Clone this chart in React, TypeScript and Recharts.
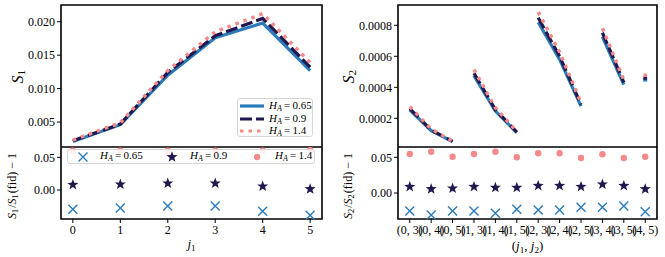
import {
  ComposedChart,
  Legend,
  Line,
  ReferenceArea,
  Scatter,
  XAxis,
  YAxis,
} from "recharts";

const FONT = "'Liberation Serif', 'Times New Roman', serif";
const BLUE = "#2b7bba";
const NAVY = "#21184f";
const PINK = "#f58a8a";

// left: S1 against j1
const j1Values = [0, 1, 2, 3, 4, 5];
const s1H065 = [0.0021, 0.0046, 0.012, 0.0176, 0.0198, 0.0127];
const s1H09 = [0.0022, 0.0047, 0.0124, 0.0179, 0.0205, 0.0132];
const s1H14 = [0.0023, 0.0049, 0.0127, 0.0185, 0.0212, 0.0139];
const r1H065 = [-0.0295, -0.0275, -0.0245, -0.0245, -0.0326, -0.0387];
const r1H09 = [0.0081, 0.0086, 0.0102, 0.0102, 0.0056, 0.0015];
const r1H14 = [0.06, 0.06, 0.06, 0.06, 0.06, 0.061];

// right: S2 against (j1, j2)
const pairLabels = [
  "(0, 3)", "(0, 4)", "(0, 5)", "(1, 3)", "(1, 4)", "(1, 5)",
  "(2, 3)", "(2, 4)", "(2, 5)", "(3, 4)", "(3, 5)", "(4, 5)",
];
const pairJ1 = [0, 0, 0, 1, 1, 1, 2, 2, 2, 3, 3, 4];
const s2H065 = [0.000254, 0.00012, 0.000049, 0.000475, 0.000247, 0.000107, 0.00082, 0.00058, 0.000279, 0.000725, 0.000417, 0.00045];
const s2H09 = [0.000263, 0.000124, 0.000051, 0.000491, 0.000256, 0.000111, 0.000849, 0.000601, 0.000289, 0.000752, 0.000432, 0.00046];
const s2H14 = [0.000275, 0.000131, 0.000053, 0.000514, 0.000268, 0.000115, 0.000886, 0.000627, 0.0003, 0.000781, 0.000448, 0.000478];
const r2H065 = [-0.0252, -0.0308, -0.0252, -0.0252, -0.0285, -0.0229, -0.0238, -0.0238, -0.02, -0.02, -0.0182, -0.0262];
const r2H09 = [0.0088, 0.0056, 0.0065, 0.0088, 0.0075, 0.0075, 0.0102, 0.0102, 0.0088, 0.0121, 0.0102, 0.0056];
const r2H14 = [0.0546, 0.0578, 0.0508, 0.0546, 0.0578, 0.05, 0.0556, 0.0556, 0.049, 0.0542, 0.049, 0.0508];

const s1Ticks = [0.005, 0.01, 0.015, 0.02];
const s2Ticks = [0.0002, 0.0004, 0.0006, 0.0008];
const ratioTicks = [0, 0.05];

const leftData = j1Values.map((j, i) => ({
  j,
  a: s1H065[i],
  b: s1H09[i],
  c: s1H14[i],
  ra: r1H065[i],
  rb: r1H09[i],
  rc: r1H14[i],
}));

// break the lines between j1 groups with empty rows
const rightLines: any[] = [];
pairLabels.forEach((_, i) => {
  if (i > 0 && pairJ1[i] !== pairJ1[i - 1]) rightLines.push({ x: i - 0.5, a: null, b: null, c: null });
  rightLines.push({ x: i, a: s2H065[i], b: s2H09[i], c: s2H14[i] });
});
const loneIdx = pairLabels
  .map((_, i) => i)
  .filter((i) => pairJ1[i] !== pairJ1[i - 1] && pairJ1[i] !== pairJ1[i + 1]);

const rightRatio = pairLabels.map((_, i) => ({ x: i, ra: r2H065[i], rb: r2H09[i], rc: r2H14[i] }));

const tickStyle = { fontSize: 12, fill: "#000", fontFamily: FONT };

const Cross = ({ cx, cy }: any) => (
  <path d={`M${cx - 4.5},${cy - 4.5}L${cx + 4.5},${cy + 4.5}M${cx - 4.5},${cy + 4.5}L${cx + 4.5},${cy - 4.5}`} stroke={BLUE} strokeWidth={1.4} fill="none" />
);
const starD = (cx: number, cy: number, R: number, r: number) => {
  let d = "";
  for (let i = 0; i < 10; i++) {
    const ang = -Math.PI / 2 + (i * Math.PI) / 5;
    const rad = i % 2 ? r : R;
    d += `${i ? "L" : "M"}${cx + rad * Math.cos(ang)},${cy + rad * Math.sin(ang)}`;
  }
  return d + "Z";
};
const Star = ({ cx, cy }: any) => <path d={starD(cx, cy, 5.8, 2.4)} fill={NAVY} />;
const Dot = ({ cx, cy }: any) => <circle cx={cx} cy={cy} r={3.2} fill={PINK} />;

// S with a subscript, for axis labels
const SubS = ({ n }: { n: string }) => (
  <>
    <tspan fontStyle="italic">S</tspan>
    <tspan dy={3} fontSize="0.7em">{n}</tspan>
    <tspan dy={-3}>{"\u200a"}</tspan>
  </>
);

const yLabel = (dx: number, dyc: number, size: number, body: any) => ({ viewBox }: any) => {
  const cx = viewBox.x + dx;
  const cy = viewBox.y + viewBox.height / 2 + dyc;
  return (
    <text x={cx} y={cy} transform={`rotate(-90 ${cx} ${cy})`} textAnchor="middle" dominantBaseline="middle" fontFamily={FONT} fontSize={size} fill="#000">
      {body}
    </text>
  );
};

const xLabel = (dy: number, body: any) => ({ viewBox }: any) => (
  <text x={viewBox.x + viewBox.width / 2} y={viewBox.y + dy} textAnchor="middle" fontFamily={FONT} fontSize={13} fill="#000">
    {body}
  </text>
);

const HA = ({ v }: { v: string }) => (
  <span style={{ whiteSpace: "nowrap" }}>
    <i>H</i>
    <sub style={{ fontSize: 8, fontStyle: "italic", verticalAlign: -2 }}>A</sub>
    {"\u2009=\u2009" + v}
  </span>
);

const LineLegend = () => {
  const rows = [
    { c: BLUE, dash: undefined, v: "0.65" },
    { c: NAVY, dash: "12 4", v: "0.9" },
    { c: PINK, dash: "3.5 5", v: "1.4" },
  ];
  return (
    <div style={{ width: 76, height: 39, boxSizing: "border-box", background: "rgba(255,255,255,0.85)", border: "1px solid #d6d6d6", borderRadius: 3, fontFamily: FONT, fontSize: 11, padding: "1px 0 0 2px", whiteSpace: "nowrap" }}>
      {rows.map((r) => (
        <div key={r.v} style={{ display: "flex", alignItems: "center", height: 12.5 }}>
          <svg width={24} height={8} style={{ marginRight: 5, flex: "none" }}>
            <line x1={0} y1={4} x2={24} y2={4} stroke={r.c} strokeWidth={3.2} strokeDasharray={r.dash} />
          </svg>
          <HA v={r.v} />
        </div>
      ))}
    </div>
  );
};

const MarkerLegend = () => (
  <div style={{ position: "relative", width: 248, height: 15, boxSizing: "border-box", background: "rgba(255,255,255,0.85)", border: "1px solid #d6d6d6", borderRadius: 3, fontFamily: FONT, fontSize: 11 }}>
    <svg width={248} height={14} style={{ position: "absolute", left: 0, top: 0 }}>
      <Cross cx={15} cy={7} />
      <Star cx={104} cy={7} />
      <Dot cx={189} cy={7} />
    </svg>
    <span style={{ position: "absolute", left: 32, top: -1 }}><HA v="0.65" /></span>
    <span style={{ position: "absolute", left: 122, top: -1 }}><HA v="0.9" /></span>
    <span style={{ position: "absolute", left: 207, top: -1 }}><HA v="1.4" /></span>
  </div>
);

const frame = (x1: number, x2: number, y1: number, y2: number) => (
  <ReferenceArea x1={x1} x2={x2} y1={y1} y2={y2} fill="none" stroke="#000" strokeWidth={1.6} ifOverflow="visible" />
);

const lonePoint = (color: string, size: number) => (props: any) => {
  const { cx, cy, payload, index } = props;
  if (!loneIdx.includes(payload.x)) return <g key={index} />;
  return <rect key={index} x={cx - size / 2} y={cy - size / 2} width={size} height={size} fill={color} />;
};

export default function App() {
  return (
    <div style={{ position: "absolute", left: 0, top: 0, width: 665, height: 257, background: "#fff" }}>
      {/* top left: S1 */}
      <div style={{ position: "absolute", left: 0, top: 0 }}>
        <ComposedChart width={330} height={147} data={leftData} margin={{ top: 5, right: 8, bottom: 0, left: 0 }}>
          <XAxis dataKey="j" type="number" domain={[-0.25, 5.25]} hide />
          <YAxis
            width={61}
            type="number"
            domain={[0.00127, 0.0225]}
            ticks={s1Ticks}
            tickFormatter={(v) => v.toFixed(3)}
            tick={tickStyle}
            tickSize={4}
            tickLine={{ stroke: "#000" }}
            axisLine={false}
            label={{ content: yLabel(19, 0, 16, <SubS n="1" />) }}
          />
          <Line dataKey="a" stroke={BLUE} strokeWidth={3.2} dot={false} isAnimationActive={false} />
          <Line dataKey="b" stroke={NAVY} strokeWidth={3.2} strokeDasharray="12 4" dot={false} isAnimationActive={false} />
          <Line dataKey="c" stroke={PINK} strokeWidth={3.5} strokeDasharray="3.5 5" dot={false} isAnimationActive={false} />
          {frame(-0.25, 5.25, 0.00127, 0.0225)}
          <Legend layout="vertical" align="center" verticalAlign="middle" wrapperStyle={{ left: 237, top: 98, width: 76 }} content={() => <LineLegend />} />
        </ComposedChart>
      </div>

      {/* bottom left: ratio */}
      <div style={{ position: "absolute", left: 0, top: 147 }}>
        <ComposedChart width={330} height={110} data={leftData} margin={{ top: 0, right: 8, bottom: 0, left: 0 }}>
          <XAxis
            dataKey="j"
            type="number"
            domain={[-0.25, 5.25]}
            ticks={j1Values}
            tick={tickStyle}
            tickSize={4}
            tickLine={{ stroke: "#000" }}
            axisLine={false}
            height={38}
            label={{ content: xLabel(29, <><tspan fontStyle="italic">j</tspan><tspan dy={3} fontSize="0.7em">1</tspan></>) }}
          />
          <YAxis
            width={61}
            type="number"
            domain={[-0.0443, 0.0657]}
            ticks={ratioTicks}
            tickFormatter={(v) => v.toFixed(2)}
            tick={tickStyle}
            tickSize={4}
            tickLine={{ stroke: "#000" }}
            axisLine={false}
            label={{ content: yLabel(13, 3, 12, <><SubS n="1" />/<SubS n="1" />(fid) − 1</>) }}
          />
          <Scatter dataKey="ra" shape={<Cross />} isAnimationActive={false} />
          <Scatter dataKey="rb" shape={<Star />} isAnimationActive={false} />
          <Scatter dataKey="rc" shape={<Dot />} isAnimationActive={false} />
          {frame(-0.25, 5.25, -0.0443, 0.0657)}
          <Legend layout="vertical" align="center" verticalAlign="middle" wrapperStyle={{ left: 67, top: 2, width: 248 }} content={() => <MarkerLegend />} />
        </ComposedChart>
      </div>

      {/* top right: S2 */}
      <div style={{ position: "absolute", left: 330, top: 0 }}>
        <ComposedChart width={335} height={147} data={rightLines} margin={{ top: 5, right: 8, bottom: 0, left: 0 }}>
          <XAxis dataKey="x" type="number" domain={[-0.55, 11.55]} hide />
          <YAxis
            width={68}
            type="number"
            domain={[0.0000148, 0.000931]}
            ticks={s2Ticks}
            tickFormatter={(v) => v.toFixed(4)}
            tick={tickStyle}
            tickSize={4}
            tickLine={{ stroke: "#000" }}
            axisLine={false}
            label={{ content: yLabel(20, 0, 16, <SubS n="2" />) }}
          />
          <Line dataKey="a" stroke={BLUE} strokeWidth={3.2} dot={lonePoint(BLUE, 4)} connectNulls={false} isAnimationActive={false} />
          <Line dataKey="b" stroke={NAVY} strokeWidth={3.2} strokeDasharray="12 4" dot={lonePoint(NAVY, 3.5)} connectNulls={false} isAnimationActive={false} />
          <Line dataKey="c" stroke={PINK} strokeWidth={3.5} strokeDasharray="3.5 5" dot={lonePoint(PINK, 3.5)} connectNulls={false} isAnimationActive={false} />
          {frame(-0.55, 11.55, 0.0000148, 0.000931)}
        </ComposedChart>
      </div>

      {/* bottom right: ratio */}
      <div style={{ position: "absolute", left: 330, top: 147 }}>
        <ComposedChart width={335} height={110} data={rightRatio} margin={{ top: 0, right: 8, bottom: 0, left: 0 }}>
          <XAxis
            dataKey="x"
            type="number"
            domain={[-0.55, 11.55]}
            ticks={pairLabels.map((_, i) => i)}
            interval={0}
            tickFormatter={(v) => pairLabels[v]}
            tick={tickStyle}
            tickSize={4}
            tickLine={{ stroke: "#000" }}
            axisLine={false}
            height={38}
            label={{
              content: xLabel(31, <>(<tspan fontStyle="italic">j</tspan><tspan dy={3} fontSize="0.7em">1</tspan><tspan dy={-3}>, </tspan><tspan fontStyle="italic">j</tspan><tspan dy={3} fontSize="0.7em">2</tspan><tspan dy={-3}>)</tspan></>),
            }}
          />
          <YAxis
            width={68}
            type="number"
            domain={[-0.0364, 0.0644]}
            ticks={ratioTicks}
            tickFormatter={(v) => v.toFixed(2)}
            tick={tickStyle}
            tickSize={4}
            tickLine={{ stroke: "#000" }}
            axisLine={false}
            label={{ content: yLabel(19, 3, 12, <><SubS n="2" />/<SubS n="2" />(fid) − 1</>) }}
          />
          <Scatter dataKey="ra" shape={<Cross />} isAnimationActive={false} />
          <Scatter dataKey="rb" shape={<Star />} isAnimationActive={false} />
          <Scatter dataKey="rc" shape={<Dot />} isAnimationActive={false} />
          {frame(-0.55, 11.55, -0.0364, 0.0644)}
        </ComposedChart>
      </div>
    </div>
  );
}
